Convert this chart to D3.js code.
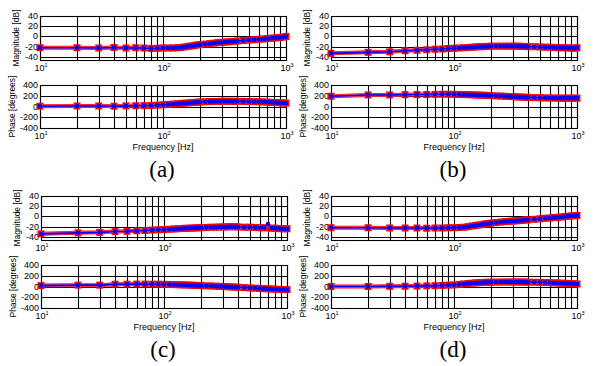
<!DOCTYPE html>
<html lang="en">
<head>
<meta charset="UTF-8">
<title>Bode plots (a)-(d)</title>
<script src="https://d3js.org/d3.v7.min.js"></script>
<style>
    body { margin: 0; background: #fff; }
    .tick-label { font-family: "Liberation Sans", Arial, sans-serif; font-size: 9px; fill: #000; }
    .axis-title { font-family: "Liberation Sans", Arial, sans-serif; font-size: 8.5px; fill: #000; }
    .panel-label { font-family: "Liberation Serif", "Times New Roman", serif; font-size: 23px; fill: #000; }
</style>
</head>
<body>
<svg id="chart" width="595" height="366"></svg>
<script>
// frequency points [Hz]
const freqs = [10,20,30,40,50,60,70,80,90,100,110,120,130,140,150,160,170,180,190,200,
               220,240,260,280,300,320,340,360,380,400,450,500,550,600,650,700,750,800,850,900,950,1000];

// magnitude [dB] and phase [degrees], one pair per panel
const magA = [-22,-22,-22.5,-21.5,-22.5,-22,-22.5,-23.5,-23,-22.5,-22.5,-22.5,-22,-21.5,-20.5,-19.5,-18.5,-17.5,-16.5,-16,
              -15,-14,-13,-12,-11.5,-11,-10.5,-10,-9.5,-9,-8,-7,-6.5,-5.5,-5,-4,-3.5,-3,-2.5,-2,-1,0];
const phA  = [5,10,10,5,12,14,16,20,25,32,38,45,50,57,62,67,72,76,80,83,
              88,91,93,95,96,97,97,97,97,96,95,93,90,88,85,82,78,75,72,69,66,63];
const magB = [-33,-31,-30,-28,-27,-26,-25,-24.5,-23.5,-23,-22.5,-22,-21.5,-21,-20.5,-20,-20,-19.5,-19.5,-19,
              -19,-19,-19,-19,-19,-19,-19,-19.5,-19.5,-20,-20,-20.5,-21,-21,-21.5,-22,-22,-22,-22.5,-22.5,-23,-22];
const phB  = [190,215,215,220,222,222,225,228,228,226,224,222,220,218,215,212,210,207,205,203,
              198,194,190,186,183,180,177,175,172,170,166,163,160,158,157,156,155,155,155,155,155,155];
const magC = [-34,-32,-31,-29.5,-29,-28,-27.5,-26.5,-26,-25.5,-25,-24.5,-24,-23.5,-23,-23,-22.5,-22.5,-22,-22,
              -21.5,-21,-21,-20.5,-20.5,-20.5,-20,-20,-20,-20.5,-21,-21,-21.5,-22,-22,-22,-23,-23,-23.5,-24,-24,-24];
const magCmeas = [-34,-32,-31,-29.5,-29,-28,-27.5,-26.5,-26,-25.5,-25,-24.5,-24,-23.5,-23,-23,-22.5,-22.5,-22,-22,
              -21.5,-21,-21,-20.5,-20.5,-20.5,-20,-20,-20,-20.5,-21,-21,-21.5,-22,-21.5,-15,-22.5,-23,-23.5,-24,-24,-24.5];
const phC  = [17,25,25,42,42,45,45,43,42,40,38,35,33,30,28,26,24,21,19,17,
              13,10,6,3,0,-3,-6,-9,-12,-14,-20,-26,-31,-36,-40,-44,-47,-50,-53,-55,-57,-58];
const magD = [-22,-22,-22.5,-22.5,-22.5,-23,-22.5,-22.5,-22,-22,-21.5,-21,-20,-18.5,-17.5,-16.5,-15.5,-14.5,-14,-13,
              -12,-11,-10,-9.5,-9,-8.5,-8,-7.5,-7,-6.5,-5.5,-4.5,-3.5,-3,-2,-1.5,-1,0,0.5,1,1.5,2];
const phD  = [0,0,3,5,8,12,15,20,25,30,38,48,55,62,67,71,74,77,79,80,
              82,83,84,84,84,84,84,83,82,81,79,76,74,71,68,65,62,59,56,53,50,47];

const magTicks = [40, 20, 0, -20, -40];
const phaseTicks = [400, 200, 0, -200, -400];
const panelLabels = ["(a)", "(b)", "(c)", "(d)"];

const panels = [
    { x0: 40,  y0: 0,   label: panelLabels[0], model: magA, meas: magA,     phase: phA },
    { x0: 331, y0: 0,   label: panelLabels[1], model: magB, meas: magB,     phase: phB },
    { x0: 41,  y0: 180, label: panelLabels[2], model: magC, meas: magCmeas, phase: phC },
    { x0: 331, y0: 180, label: panelLabels[3], model: magD, meas: magD,     phase: phD }
];

const svg = d3.select("#chart");
const plotW = 246;

function drawPlot(g, x, y, top, bottom, x0, model, meas, ticks, title, titleX) {
    // grid
    x.ticks().forEach(t => {
        const px = Math.round(x(t)) + 0.5;
        g.append("line").attr("x1", px).attr("x2", px).attr("y1", top).attr("y2", bottom)
            .attr("stroke", "#000").attr("stroke-width", 1.1);
    });
    ticks.forEach(t => {
        const py = Math.round(y(t)) + 0.5;
        g.append("line").attr("x1", x0).attr("x2", x0 + plotW).attr("y1", py).attr("y2", py)
            .attr("stroke", "#000").attr("stroke-width", 1.1);
        g.append("text").attr("class", "tick-label").attr("x", x0 - 2).attr("y", y(t) + 3)
            .attr("text-anchor", "end").text(t);
    });
    g.append("rect").attr("x", x0 + 0.5).attr("y", top + 0.5).attr("width", plotW).attr("height", bottom - top)
        .attr("fill", "none").attr("stroke", "#000").attr("stroke-width", 1.1);

    // decade labels
    [10, 100, 1000].forEach((t, i) => {
        const lbl = g.append("text").attr("class", "tick-label").attr("x", x(t) + 1).attr("y", bottom + 11)
            .attr("text-anchor", "middle");
        lbl.append("tspan").text("10");
        lbl.append("tspan").attr("dy", -4).attr("font-size", "5.5px").text(i + 1);
    });

    g.append("text").attr("class", "axis-title")
        .attr("transform", `translate(${titleX},${(top + bottom) / 2}) rotate(-90)`)
        .attr("text-anchor", "middle").text(title);

    const line = d3.line().x((d, i) => x(freqs[i])).y(d => y(d));
    // model (red)
    g.append("path").datum(model).attr("d", line).attr("fill", "none")
        .attr("stroke", "#ff0000").attr("stroke-width", 4);
    g.selectAll(null).data(model).enter().append("rect")
        .attr("x", (d, i) => x(freqs[i]) - 3.5).attr("y", d => y(d) - 3.5)
        .attr("width", 7).attr("height", 7).attr("fill", "#ff0000");
    // measurement (blue)
    g.append("path").datum(meas).attr("d", line).attr("fill", "none")
        .attr("stroke", "#f080c0").attr("stroke-width", 3).attr("stroke-opacity", 0.5);
    g.append("path").datum(meas).attr("d", line).attr("fill", "none")
        .attr("stroke", "#0000ff").attr("stroke-width", 1.6);
    g.selectAll(null).data(meas).enter().append("rect")
        .attr("x", (d, i) => x(freqs[i]) - 2).attr("y", d => y(d) - 2)
        .attr("width", 4).attr("height", 4).attr("fill", "#0000ff");
}

panels.forEach(p => {
    const g = svg.append("g");
    const x = d3.scaleLog().domain([10, 1000]).range([p.x0, p.x0 + plotW]);

    const magTop = p.y0 + 16, magBottom = p.y0 + 60;
    const yMag = d3.scaleLinear().domain([-46, 40]).range([magBottom, magTop]);
    drawPlot(g, x, yMag, magTop, magBottom, p.x0, p.model, p.meas, magTicks, "Magnitude [dB]", p.x0 - 21);

    const phTop = p.y0 + 85, phBottom = p.y0 + 128;
    const yPh = d3.scaleLinear().domain([-400, 400]).range([phBottom, phTop]);
    drawPlot(g, x, yPh, phTop, phBottom, p.x0, p.phase, p.phase, phaseTicks, "Phase [degrees]", p.x0 - 25);

    const cx = p.x0 + plotW / 2;
    g.append("text").attr("class", "tick-label").attr("x", cx).attr("y", p.y0 + 150)
        .attr("text-anchor", "middle").style("font-size", "9px").text("Frequency [Hz]");
    g.append("text").attr("class", "panel-label").attr("x", cx - 1).attr("y", p.y0 + 177)
        .attr("text-anchor", "middle").text(p.label);
});
</script>
</body>
</html>
